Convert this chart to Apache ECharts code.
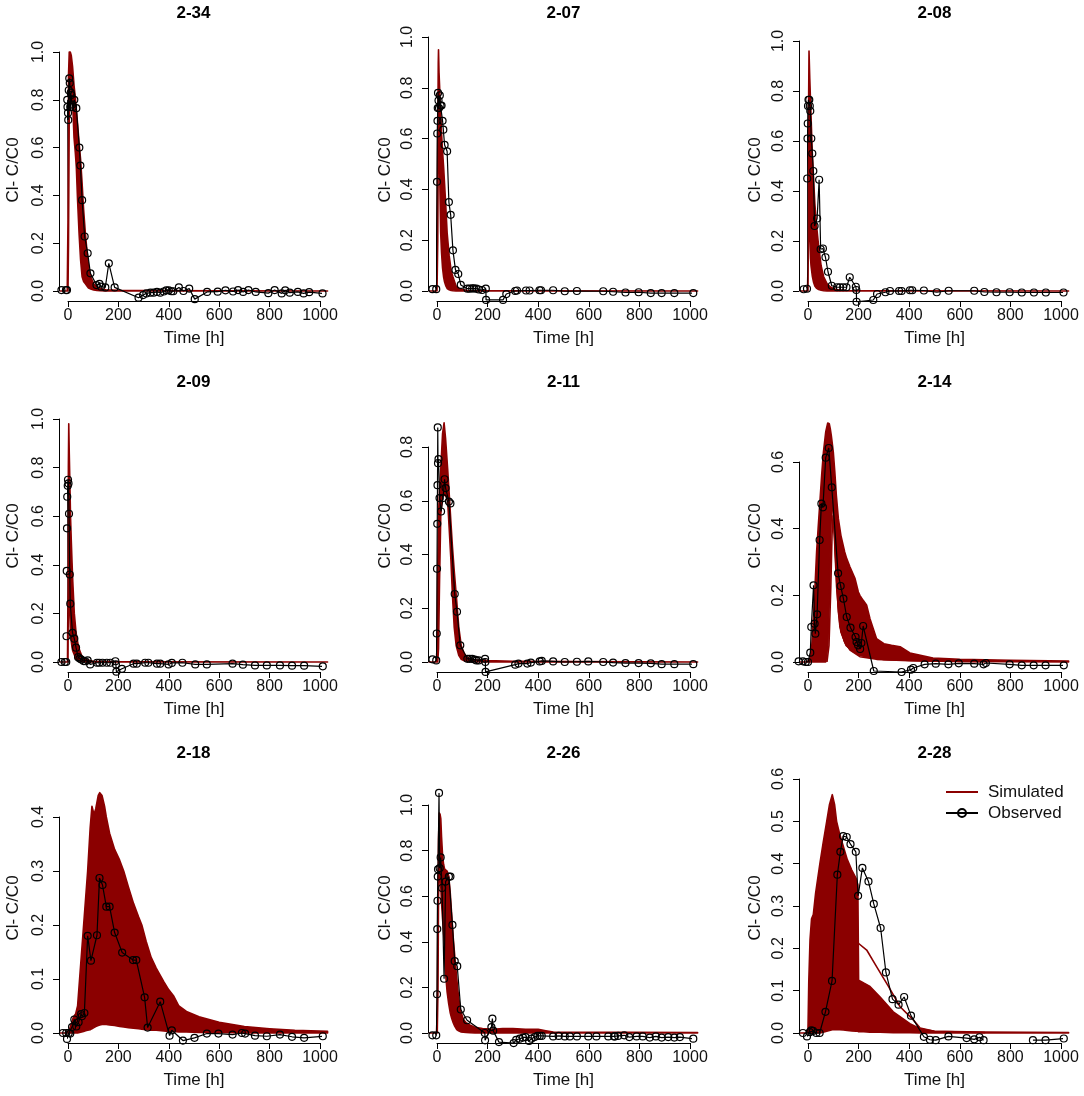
<!DOCTYPE html>
<html><head><meta charset="utf-8">
<script src="https://cdn.jsdelivr.net/npm/echarts@6/dist/echarts.min.js"></script>
<style>html,body{margin:0;padding:0;background:#fff}#c{width:1084px;height:1096px}</style>
</head><body><div id="c"></div>
<script>
// ---------- panel names and tick layout ----------
const panelNames = ['2-34','2-07','2-08','2-09','2-11','2-14','2-18','2-26','2-28'];
const xTickMax = 1000, xTickStep = 200;
const yTickMax = [1.0,1.0,1.0,1.0,0.8,0.6,0.4,1.0,0.6];
const yTickStep = [0.2,0.2,0.2,0.2,0.2,0.2,0.1,0.2,0.1];

// ---------- 2-34 ----------
const obsT_234 = [-26,-8,-4,-3,-2,0,1,3,5,7,9,11,13,16,20,25,33,45,49,56,66,78,89,113,125,131,148,162,185,280,298,311,327,340,353,366,380,390,400,410,418,440,458,481,503,552,594,625,655,675,695,716,745,795,820,848,862,880,912,935,957,1010];
const obsC_234 = [0.004,0.004,0.004,0.80,0.77,0.745,0.716,0.84,0.89,0.87,0.77,0.83,0.82,0.78,0.77,0.80,0.765,0.60,0.525,0.38,0.228,0.158,0.074,0.025,0.03,0.018,0.015,0.116,0.015,-0.028,-0.017,-0.01,-0.007,-0.007,-0.004,-0.007,-0.002,0.003,0.003,-0.001,-0.001,0.015,0.0,0.01,-0.034,-0.004,-0.003,0.003,-0.002,0.004,-0.004,0.004,-0.004,-0.009,0.004,-0.01,0.003,-0.007,-0.004,-0.01,-0.005,-0.01];
const simT_234 = [-30,-3,0,2,5,9,13,18,24,29,33,38,44,50,56,62,69,76,82,90,102,115,128,150,200,300,600,1030];
const simHi_234 = [0,0,0.3,0.9,1.0,1.0,0.985,0.94,0.86,0.81,0.76,0.70,0.62,0.55,0.45,0.34,0.24,0.16,0.10,0.06,0.03,0.015,0.01,0.005,0.003,0.002,0.001,0];
const simLo_234 = [0,0,0,0.2,0.75,0.9,0.87,0.8,0.64,0.58,0.52,0.38,0.24,0.13,0.06,0.04,0.03,0.02,0.012,0.008,0.004,0.002,0.001,0,0,0,0,0];

// ---------- 2-07 ----------
const obsT_207 = [-18,-3,0,1,2,3,4,6,8,11,14,18,22,25,30,40,47,54,63,73,84,94,120,129,139,146,156,165,178,193,194,261,274,309,316,352,366,405,411,459,505,553,657,696,745,797,845,888,938,1013];
const obsC_207 = [0.007,0.007,0.43,0.62,0.67,0.72,0.78,0.75,0.72,0.77,0.73,0.73,0.67,0.635,0.575,0.55,0.35,0.30,0.16,0.083,0.067,0.024,0.009,0.009,0.01,0.01,0.009,0.006,0.004,0.009,-0.035,-0.035,-0.012,0.0,0.002,0.002,0.002,0.003,0.003,0.003,-0.001,0.0,-0.001,-0.003,-0.006,-0.005,-0.008,-0.008,-0.008,-0.008];
const simT_207 = [-30,-2,0,3,5,6,8,10.5,12,14.5,18,22,26,30,35,40,48,56,63,75,90,120,200,1030];
const simHi_207 = [0,0,0.05,0.6,0.9,0.95,0.86,0.8,0.75,0.7,0.62,0.55,0.49,0.42,0.33,0.23,0.14,0.08,0.056,0.02,0.008,0.002,0.001,0];
const simLo_207 = [0,0,0,0.2,0.55,0.7,0.62,0.49,0.38,0.23,0.15,0.09,0.056,0.035,0.02,0.01,0.005,0.002,0.001,0,0,0,0,0];

// ---------- 2-08 ----------
const obsT_208 = [-17,-4,-3,-2,-1,0,2,5,7,9,13,17,21,26,36,44,50,59,69,79,94,115,126,139,152,165,189,191,192,258,273,306,324,360,370,403,412,458,509,556,657,697,745,797,845,893,940,1010];
const obsC_208 = [0.007,0.009,0.45,0.61,0.67,0.74,0.765,0.765,0.74,0.72,0.61,0.55,0.48,0.26,0.29,0.445,0.167,0.17,0.135,0.077,0.021,0.015,0.015,0.015,0.015,0.055,0.017,0.004,-0.043,-0.036,-0.012,-0.005,0.0,0.0,0.0,0.003,0.003,0.002,-0.005,0.001,0.001,-0.004,-0.005,-0.005,-0.006,-0.006,-0.006,-0.006];
const simT_208 = [-30,-2,0,2,4,7,10,12,17,22,27,33,42,52,62,75,90,110,150,300,1030];
const simHi_208 = [0,0,0.1,0.7,0.96,0.85,0.76,0.7,0.55,0.45,0.35,0.27,0.18,0.1,0.057,0.03,0.015,0.006,0.002,0.001,0];
const simLo_208 = [0,0,0,0.3,0.55,0.22,0.13,0.1,0.06,0.035,0.02,0.012,0.006,0.003,0.001,0,0,0,0,0,0];

// ---------- 2-09 ----------
const obsT_209 = [-26,-13,-7,-6,-5,-4,-3,-1,0,2,4,7,9,18,25,32,40,46,53,62,69,78,88,115,124,137,154,168,188,190,192,214,260,273,306,319,353,366,399,412,454,505,551,653,694,742,789,841,889,937,1011];
const obsC_209 = [0,0,0,0.106,0.375,0.55,0.68,0.725,0.75,0.735,0.61,0.36,0.24,0.12,0.096,0.059,0.02,0.014,0.01,0.004,0.003,0.007,-0.01,-0.003,-0.003,-0.003,-0.003,-0.003,0.003,-0.01,-0.04,-0.028,-0.007,-0.007,-0.003,-0.003,-0.007,-0.007,-0.01,-0.004,-0.003,-0.01,-0.01,-0.007,-0.011,-0.014,-0.014,-0.014,-0.015,-0.015,-0.018];
const simT_209 = [-30,-2,0,1.5,3,5,7,10,13,16,19,25,32,42,55,70,100,200,1030];
const simHi_209 = [0,0,0.3,0.8,0.98,0.86,0.76,0.6,0.5,0.41,0.33,0.2,0.12,0.06,0.025,0.01,0.003,0.001,0];
const simLo_209 = [0,0,0,0.3,0.7,0.35,0.2,0.12,0.085,0.06,0.045,0.03,0.012,0.005,0.002,0,0,0,0];

// ---------- 2-11 ----------
const obsT_211 = [-18,-3,-1,0,1,2,3,4,6,10,16,24,30,34,47,53,70,79,92,120,129,139,149,156,165,190,191,192,309,322,357,371,406,414,459,505,553,598,657,696,745,797,845,888,938,1013];
const obsC_211 = [0.01,0.006,0.106,0.347,0.514,0.658,0.873,0.74,0.755,0.61,0.56,0.61,0.68,0.647,0.597,0.59,0.253,0.187,0.062,0.012,0.012,0.012,0.009,0.006,0.006,0.012,0.0,-0.037,-0.01,-0.006,-0.006,-0.002,0.002,0.004,0.002,0.0,0.001,0.002,0.0,-0.002,-0.004,-0.004,-0.005,-0.008,-0.008,-0.008];
const simT_211 = [-30,-3,0,3,6,10,15,22,28,34,42,48,55,61,68,76,86,96,106,116,130,150,200,300,1030];
const simHi_211 = [0,0,0.05,0.35,0.55,0.64,0.72,0.85,0.89,0.83,0.72,0.63,0.52,0.43,0.34,0.25,0.13,0.06,0.035,0.02,0.012,0.008,0.005,0.003,0];
const simLo_211 = [0,0,0,0,0.05,0.3,0.55,0.62,0.62,0.62,0.6,0.5,0.38,0.25,0.13,0.06,0.025,0.01,0.005,0.003,0.002,0.001,0,0,0];

// ---------- 2-14 ----------
const obsT_214 = [-37,-20,-9,0,9,13,22,26,29,36,46,53,59,70,82,94,119,129,140,153,168,188,192,198,206,211,218,260,370,407,416,461,505,555,596,657,694,703,797,845,892,939,1011];
const obsC_214 = [0.002,0.002,0,0,0.028,0.105,0.23,0.115,0.085,0.143,0.366,0.475,0.464,0.613,0.642,0.524,0.266,0.228,0.19,0.135,0.103,0.075,0.06,0.05,0.039,0.057,0.108,-0.027,-0.03,-0.023,-0.018,-0.007,-0.005,-0.007,-0.004,-0.005,-0.007,-0.003,-0.007,-0.01,-0.01,-0.01,-0.01];
const simT_214 = [-30,-5,0,8,15,21,28,34,40,47,54,61,70,78,84,88,92,96,100,106,112,120,130,145,153,166,186,199,205,218,232,245,258,271,300,330,364,403,494,600,800,1030];
const simHi_214 = [0,0,0.003,0.01,0.05,0.126,0.23,0.33,0.4,0.48,0.56,0.63,0.69,0.717,0.715,0.7,0.68,0.655,0.63,0.57,0.5,0.43,0.38,0.33,0.31,0.285,0.25,0.21,0.2,0.185,0.17,0.13,0.1,0.07,0.055,0.05,0.046,0.027,0.012,0.008,0.005,0.003];
const simLo_214 = [0,0,0,0,0,0,0,0,0,0,0,0,0,0.06,0.22,0.38,0.5,0.52,0.47,0.36,0.26,0.15,0.09,0.06,0.05,0.04,0.03,0.022,0.02,0.018,0.016,0.014,0.012,0.01,0.008,0.007,0.006,0.005,0.003,0.002,0.001,0];
const simAT_214 = [70,78,85,90,94,98,104,113,126,145,166,205,271,400,700];
const simAC_214 = [0,0.05,0.2,0.38,0.486,0.47,0.38,0.226,0.106,0.06,0.036,0.016,0.008,0.004,0.001];
const simBT_214 = [75,83,90,95,99,104,112,120,132,150,180,230,300,500];
const simBC_214 = [0,0.05,0.22,0.38,0.44,0.4,0.28,0.17,0.09,0.05,0.03,0.015,0.008,0.003];

// ---------- 2-18 ----------
const obsT_218 = [-20,-7,-4,3,9,16,25,33,42,52,55,65,78,91,115,125,137,152,165,185,215,258,271,304,316,366,403,412,456,502,551,597,653,690,703,742,789,841,889,937,1011];
const obsC_218 = [0,0,-0.011,0,-0.001,0.011,0.025,0.012,0.02,0.035,0.031,0.037,0.18,0.134,0.181,0.287,0.274,0.234,0.234,0.186,0.149,0.135,0.135,0.066,0.01,0.058,-0.005,0.005,-0.014,-0.009,-0.001,-0.001,-0.003,0.0,-0.001,-0.005,-0.006,-0.003,-0.007,-0.009,-0.006];
const simT_218 = [-30,-10,5,15,22,30,38,46,54,62,70,78,88,95,103,110,120,126,135,145,152,165,185,205,221,240,260,280,293,310,330,350,380,400,420,440,470,520,600,700,800,900,1030];
const simHi_218 = [0,0,0.005,0.02,0.03,0.035,0.05,0.1,0.15,0.2,0.25,0.3,0.38,0.42,0.405,0.415,0.44,0.445,0.44,0.42,0.4,0.37,0.34,0.32,0.3,0.27,0.24,0.215,0.2,0.17,0.14,0.12,0.095,0.08,0.068,0.05,0.04,0.03,0.02,0.012,0.008,0.005,0.003];
const simLo_218 = [0,0,0,0,0,0,0,0.001,0.002,0.003,0.004,0.005,0.006,0.008,0.01,0.012,0.014,0.015,0.016,0.016,0.016,0.015,0.014,0.012,0.011,0.01,0.009,0.008,0.007,0.006,0.005,0.005,0.004,0.003,0.003,0.002,0.002,0.001,0.001,0,0,0,0];

// ---------- 2-26 ----------
const obsT_226 = [-18,-3,0,1,2,3,4,8,10.5,14.5,20,28,34,47,53,61,70,80,94,119,189,190,215,219,222,245,303,313,327,340,350,364,373,386,397,406,414,459,481,505,525,553,598,630,677,700,703,716,740,760,789,813,841,865,888,914,938,960,1013];
const obsC_226 = [-0.01,-0.01,0.17,0.456,0.58,0.686,0.718,1.053,0.723,0.77,0.636,0.238,0.664,0.686,0.686,0.474,0.315,0.293,0.103,0.056,0.0,-0.032,0.026,0.063,0.01,-0.04,-0.044,-0.03,-0.025,-0.02,-0.018,-0.035,-0.025,-0.018,-0.013,-0.013,-0.013,-0.015,-0.013,-0.015,-0.015,-0.015,-0.015,-0.015,-0.015,-0.015,-0.015,-0.013,-0.01,-0.018,-0.015,-0.015,-0.02,-0.015,-0.02,-0.018,-0.02,-0.018,-0.025];
const simT_226 = [-30,-2,1,4,6,9,12,15,18,22,26,30,34,40,46,52,58,64,70,78,85,94,104,115,130,150,180,220,260,300,350,400,430,460,1030];
const simHi_226 = [0,0,0.1,0.55,0.85,0.965,0.96,0.94,0.86,0.78,0.74,0.72,0.715,0.71,0.69,0.62,0.52,0.42,0.34,0.24,0.16,0.095,0.06,0.045,0.035,0.025,0.02,0.016,0.02,0.02,0.016,0.016,0.01,0.004,0.002];
const simLo_226 = [0,0,0,0.2,0.6,0.72,0.7,0.64,0.57,0.5,0.44,0.38,0.26,0.18,0.13,0.09,0.065,0.045,0.03,0.015,0.01,0.005,0.003,0.002,0.001,0,0,0,0,0,0,0,0,0,0];

// ---------- 2-28 ----------
const obsT_228 = [-20,-4,7,13,20,33,46,69,95,116,128,139,153,168,189,198,215,239,260,287,308,334,358,380,407,458,482,505,555,627,657,678,694,790,889,939,1011];
const obsC_228 = [0,-0.008,0.002,0.006,0.005,0,0,0.05,0.123,0.374,0.428,0.465,0.463,0.446,0.428,0.324,0.39,0.358,0.305,0.248,0.143,0.08,0.067,0.085,0.041,-0.009,-0.016,-0.017,-0.008,-0.012,-0.015,-0.01,-0.017,null,-0.017,-0.017,-0.013];
const simT_228 = [-30,-5,0,3,8,14,21,30,47,60,74,85,96,105,113,125,140,155,173,190,197,200,220,245,285,337,403,443,500,700,1030];
const simHi_228 = [0,0,0.01,0.12,0.22,0.27,0.28,0.33,0.40,0.45,0.50,0.54,0.563,0.54,0.50,0.47,0.44,0.41,0.385,0.365,0.35,0.125,0.118,0.11,0.085,0.05,0.022,0.01,0.004,0.002,0.001];
const simLo_228 = [0,0,0,0,0,0,0,0,0,0.002,0.004,0.006,0.008,0.008,0.008,0.008,0.007,0.006,0.005,0.004,0.004,0.003,0.003,0.002,0.002,0.001,0.001,0,0,0,0];
const simAT_228 = [173,199,232,271,318,364,416,443,500,700];
const simAC_228 = [0.3,0.212,0.196,0.157,0.11,0.062,0.031,0.012,0.004,0.001];

// ---------- assemble ----------
const panels = [
  {obsT:obsT_234, obsC:obsC_234, simT:simT_234, simLo:simLo_234, simHi:simHi_234, extra:[]},
  {obsT:obsT_207, obsC:obsC_207, simT:simT_207, simLo:simLo_207, simHi:simHi_207, extra:[]},
  {obsT:obsT_208, obsC:obsC_208, simT:simT_208, simLo:simLo_208, simHi:simHi_208, extra:[]},
  {obsT:obsT_209, obsC:obsC_209, simT:simT_209, simLo:simLo_209, simHi:simHi_209, extra:[]},
  {obsT:obsT_211, obsC:obsC_211, simT:simT_211, simLo:simLo_211, simHi:simHi_211, extra:[]},
  {obsT:obsT_214, obsC:obsC_214, simT:simT_214, simLo:simLo_214, simHi:simHi_214, extra:[[simAT_214,simAC_214],[simBT_214,simBC_214]]},
  {obsT:obsT_218, obsC:obsC_218, simT:simT_218, simLo:simLo_218, simHi:simHi_218, extra:[]},
  {obsT:obsT_226, obsC:obsC_226, simT:simT_226, simLo:simLo_226, simHi:simHi_226, extra:[]},
  {obsT:obsT_228, obsC:obsC_228, simT:simT_228, simLo:simLo_228, simHi:simHi_228, extra:[[simAT_228,simAC_228]]}
];

// ---------- layout / style ----------
const RED = '#8b0000';
const INK = '#111';
const FONT = '"Liberation Sans", Arial, Helvetica, sans-serif';
const colLeft = [68, 437, 808];
const colWidth = [252, 253, 253];
const rowBottom = [291, 662, 1033];
const panelTop = [52, 37, 41, 419, 447, 462, 817, 805, 779];
const titleX = [193.5, 563.5, 934.5];
const titleY = [13, 382, 753];
const ylabX = [13, 385, 755];
const ylabY = [170, 536, 908];

function bandRenderer(T, LO, HI) {
  return function (params, api) {
    if (params.dataIndex !== 0) return null;
    const pts = [];
    for (let i = 0; i < T.length; i++) pts.push(api.coord([T[i], HI[i]]));
    for (let i = T.length - 1; i >= 0; i--) pts.push(api.coord([T[i], LO[i]]));
    return {type: 'polygon', shape: {points: pts},
            style: {fill: RED, stroke: RED, lineWidth: 1.6, lineJoin: 'round'}};
  };
}

const grids = [], xAxes = [], yAxes = [], lineSims = [], bands = [], obsSeries = [], graphics = [];
panels.forEach((p, i) => {
  const r = Math.floor(i / 3), c = i % 3;
  grids.push({left: colLeft[c], top: panelTop[i], width: colWidth[c],
              height: rowBottom[r] - panelTop[i], containLabel: false, outerBoundsMode: 'none'});
  xAxes.push({gridIndex: i, type: 'value', min: 0, max: xTickMax, interval: xTickStep, offset: 10,
    axisLine: {show: true, onZero: false, lineStyle: {color: '#000', width: 1}},
    axisTick: {show: true, length: 6, lineStyle: {color: '#000', width: 1}},
    axisLabel: {show: true, fontSize: 16, color: INK, margin: 7, fontFamily: FONT, formatter: v => String(v)},
    splitLine: {show: false},
    name: 'Time [h]', nameLocation: 'middle', nameGap: 29,
    nameTextStyle: {fontSize: 17, color: INK, fontFamily: FONT}});
  yAxes.push({gridIndex: i, type: 'value', min: 0, max: yTickMax[i], interval: yTickStep[i], offset: 9,
    axisLine: {show: true, onZero: false, lineStyle: {color: '#000', width: 1}},
    axisTick: {show: true, length: 6, lineStyle: {color: '#000', width: 1}},
    axisLabel: {show: true, rotate: 90, fontSize: 16, color: INK, margin: 12, fontFamily: FONT,
                formatter: v => Number(v).toFixed(1)},
    splitLine: {show: false}});
  p.extra.forEach(([T, C]) => {
    lineSims.push({type: 'line', name: 'Simulated', xAxisIndex: i, yAxisIndex: i,
      data: T.map((t, k) => [t, C[k]]), symbol: 'none', showSymbol: false, clip: false,
      lineStyle: {color: RED, width: 1.6}, itemStyle: {color: RED}, z: 3, silent: true});
  });
  bands.push({type: 'custom', name: 'Simulated', xAxisIndex: i, yAxisIndex: i,
    data: p.simT.map((t, k) => [t, p.simLo[k], p.simHi[k]]), encode: {x: 0, y: [1, 2]},
    renderItem: bandRenderer(p.simT, p.simLo, p.simHi), clip: false, z: 2, silent: true,
    itemStyle: {color: RED}});
  obsSeries.push({type: 'line', name: 'Observed', xAxisIndex: i, yAxisIndex: i,
    data: p.obsT.map((t, k) => [t, p.obsC[k] === null ? '-' : p.obsC[k]]),
    symbol: 'circle', symbolSize: 7, showSymbol: true, clip: false, connectNulls: false,
    itemStyle: {color: 'rgba(0,0,0,0)', borderColor: '#000', borderWidth: 1.2},
    lineStyle: {color: '#000', width: 1.2}, z: 5, silent: true});
  graphics.push({type: 'text', x: titleX[c], y: titleY[r],
    style: {text: panelNames[i], fontSize: 17, fontWeight: 'bold', fontFamily: FONT, fill: '#000',
            align: 'center', verticalAlign: 'middle'}});
  graphics.push({type: 'text', x: ylabX[c], y: ylabY[r], rotation: Math.PI / 2,
    style: {text: 'Cl- C/C0', fontSize: 17, fontFamily: FONT, fill: INK,
            align: 'center', verticalAlign: 'middle'}});
});

const chart = echarts.init(document.getElementById('c'), null, {renderer: 'canvas'});
chart.setOption({
  animation: false,
  backgroundColor: '#fff',
  textStyle: {fontFamily: FONT},
  grid: grids, xAxis: xAxes, yAxis: yAxes,
  legend: {
    left: 940, top: 778, orient: 'vertical', itemWidth: 32, itemHeight: 10, itemGap: 3,
    selectedMode: false,
    textStyle: {fontSize: 17, color: INK, fontFamily: FONT, lineHeight: 18, padding: [0, 0, 0, 5]},
    data: [{name: 'Simulated', itemStyle: {opacity: 0, color: 'rgba(0,0,0,0)', borderWidth: 0}},
           {name: 'Observed'}]
  },
  graphic: graphics,
  series: lineSims.concat(bands, obsSeries)
});
</script>
</body></html>
